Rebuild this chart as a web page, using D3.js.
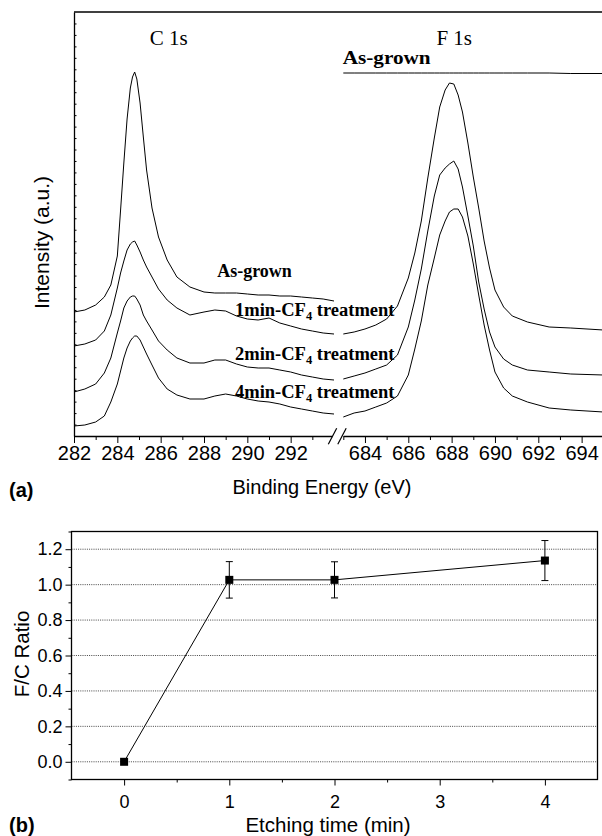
<!DOCTYPE html>
<html>
<head>
<meta charset="utf-8">
<script src="https://cdn.jsdelivr.net/npm/d3@7"></script>
<style>
body{margin:0;background:#fff;}
svg{display:block;}
.serif{font-family:"Liberation Serif","Times New Roman",serif;}
.sans{font-family:"Liberation Sans",Arial,sans-serif;}
</style>
</head>
<body>
<div id="plot"></div>
<script>
//DATA - panel (a), XPS spectra (intensity in a.u., stacked)
var cEnergy = [282, 282.5, 283, 283.4, 283.7, 284, 284.15, 284.3, 284.45, 284.6, 284.7, 284.8, 284.9, 285.05, 285.2, 285.35, 285.6, 285.9, 286.3, 286.75, 287.35, 288, 288.5, 289, 289.5, 290, 290.5, 291, 291.5, 292, 292.5, 293, 293.5, 294];
var cAsGrown = [124, 126, 131, 139, 151, 180, 226, 273, 317, 348, 359, 364, 357, 333, 299, 266, 228, 199, 176, 159, 149, 144, 143, 143, 143, 142, 141, 141, 140, 140, 139, 138, 137, 135];
var c1min = [90, 92, 96, 105, 121, 148, 163, 175, 186, 192, 194, 195, 191, 184, 176, 169, 159, 147, 136, 128, 121, 124, 126, 125, 120, 117, 116, 118, 113, 110, 107, 105, 103, 102];
var c2min = [44, 47, 52, 63, 78, 103, 115, 128, 135, 139, 140, 140, 137, 131, 121, 115, 106, 95, 86, 78, 73, 73, 76, 76, 72, 69, 68, 68, 66, 64, 61, 59, 57, 56];
var c4min = [10, 11, 14, 20, 34, 52, 65, 78, 88, 95, 98, 100, 100, 96, 89, 82, 71, 58, 47, 41, 37, 37, 40, 42, 40, 37, 35, 34, 32, 29, 27, 25, 23, 22];

var fEnergy = [683, 683.5, 684, 684.5, 685, 685.5, 686, 686.3, 686.6, 686.9, 687.2, 687.45, 687.7, 687.9, 688.1, 688.3, 688.5, 688.75, 689, 689.25, 689.5, 689.75, 690, 690.4, 690.8, 691.5, 692.5, 693.5, 695];
var fAsGrown = [363, 363, 363, 363, 363, 363, 363, 363, 363, 363, 363, 363, 363, 363, 363, 363, 363, 363, 363, 363, 363, 363, 363, 363, 363, 363, 363, 362.5, 362.5];
var f1min = [102, 104, 107, 111, 117, 130, 158, 183, 215, 258, 298, 329, 346, 353, 352, 341, 324, 293, 259, 228, 195, 168, 146, 129, 120, 114, 109, 108, 106];
var f2min = [57, 60, 63, 67, 71, 81, 109, 136, 167, 205, 240, 261, 268, 272, 275, 267, 249, 220, 190, 154, 127, 104, 89, 77, 71, 66, 64, 62, 61];
var f4min = [19, 23, 25, 29, 33, 40, 61, 87, 115, 151, 178, 201, 215, 224, 227, 227, 219, 200, 172, 141, 111, 86, 64, 48, 40, 34, 28, 26, 24];

var cMajor = [282, 284, 286, 288, 290, 292];
var cMinor = [283, 285, 287, 289, 291, 293];
var fMajor = [684, 686, 688, 690, 692, 694];
var fMinor = [683, 685, 687, 689, 691, 693, 695];
var intensityMax = 424;
var intensityTickCount = 37;

//DATA - panel (b), F/C ratio
var etchTime = [0, 1, 2, 4];
var fcRatio = [0, 1.027, 1.027, 1.136];
var fcError = [0, 0.103, 0.102, 0.113];
var timeMajor = [0, 1, 2, 3, 4];
var timeMinor = [0.5, 1.5, 2.5, 3.5];
var ratioMajor = [0, 0.2, 0.4, 0.6, 0.8, 1.0, 1.2];
var ratioMinor = [-0.1, 0.1, 0.3, 0.5, 0.7, 0.9, 1.1, 1.3];

var svg = d3.select('#plot')
    .append('svg')
    .attr('width',602)
    .attr('height',836);

//SCALES - panel (a) has a broken x axis
var xL = d3.scaleLinear().domain([282,294]).range([74,334]);
var xR = d3.scaleLinear().domain([683,695]).range([343.3,603.3]);
var yI = d3.scaleLinear().domain([0,intensityMax]).range([436,12]);

var lineC = d3.line()
    .x(function(d,i){return xL(cEnergy[i]);})
    .y(function(d){return yI(d);});
var lineF = d3.line()
    .x(function(d,i){return xR(fEnergy[i]);})
    .y(function(d){return yI(d);});

var panelA = svg.append('g');

//spectra
[cAsGrown,c1min,c2min,c4min].forEach(function(s){
    panelA.append('path')
        .attr('d',lineC(s))
        .style('fill','none')
        .style('stroke','#000')
        .style('stroke-width','1px');
});
[fAsGrown,f1min,f2min,f4min].forEach(function(s){
    panelA.append('path')
        .attr('d',lineF(s))
        .style('fill','none')
        .style('stroke','#000')
        .style('stroke-width','1px');
});

//x axes (two segments)
function bottomAxis(scale,major,minor){
    var g = panelA.append('g')
        .attr('transform','translate(0,436)')
        .attr('class','sans');
    g.call(d3.axisBottom(scale).tickValues(major).tickSize(7).tickSizeOuter(0).tickPadding(3).tickFormat(d3.format('d')));
    g.selectAll('text').style('font-size','20px').style('fill','#000');
    g.select('.domain').style('stroke-width','1.3px');
    var m = panelA.append('g')
        .attr('transform','translate(0,436)');
    m.call(d3.axisBottom(scale).tickValues(minor).tickSize(4).tickFormat(''));
    m.select('.domain').remove();
}
bottomAxis(xL,cMajor,cMinor);
bottomAxis(xR,fMajor,fMinor);

//axis break marks
var bx1 = xL(294)-1.5, bx2 = xR(683)-1.3;
panelA.append('rect')
    .attr('x',bx1)
    .attr('y',432)
    .attr('width',bx2-bx1)
    .attr('height',8)
    .style('fill','#fff');
[bx1,bx2].forEach(function(cx){
    panelA.append('line')
        .attr('x1',cx-4.2)
        .attr('y1',444.3)
        .attr('x2',cx+4.2)
        .attr('y2',428.3)
        .style('stroke','#000')
        .style('stroke-width','1.2px');
});

//left intensity axis, inner ticks only
var yStep = intensityMax/intensityTickCount;
var yA = panelA.append('g')
    .attr('transform','translate(74,0)');
yA.call(d3.axisLeft(yI).tickValues(d3.range(1,intensityTickCount).map(function(i){return i*yStep;})).tickSize(-2.5).tickSizeOuter(0).tickFormat(''));
yA.select('.domain').style('stroke-width','1.3px');

//top frame line
panelA.append('line')
    .attr('x1',xL(282))
    .attr('x2',xR(695))
    .attr('y1',yI(intensityMax))
    .attr('y2',yI(intensityMax))
    .style('stroke','#000')
    .style('stroke-width','1.3px');

//annotations
panelA.append('text')
    .attr('class','serif')
    .attr('x',xL(286.37))
    .attr('y',yI(391))
    .attr('text-anchor','middle')
    .style('font-size','21px')
    .text('C 1s');
panelA.append('text')
    .attr('class','serif')
    .attr('x',xR(688.12))
    .attr('y',yI(391))
    .attr('text-anchor','middle')
    .style('font-size','21px')
    .text('F 1s');
panelA.append('text')
    .attr('class','serif')
    .attr('x',xL(288.61))
    .attr('y',yI(159))
    .style('font-size','18px')
    .style('font-weight','bold')
    .text('As-grown');
panelA.append('text')
    .attr('class','serif')
    .attr('x',xR(682.97))
    .attr('y',yI(372))
    .attr('textLength',88)
    .attr('lengthAdjust','spacingAndGlyphs')
    .style('font-size','19px')
    .style('font-weight','bold')
    .text('As-grown');

var treatLabels = ['1min','2min','4min'];
var treatLabelY = [120, 76, 37.7];
treatLabels.forEach(function(t,i){
    var tx = panelA.append('text')
        .attr('class','serif')
        .attr('x',xL(289.43))
        .attr('y',yI(treatLabelY[i]))
        .style('font-size','18.5px')
        .style('font-weight','bold');
    tx.append('tspan').text(t+'-CF');
    tx.append('tspan').attr('dy',4).style('font-size','12.5px').text('4');
    tx.append('tspan').attr('dy',-4).text(' treatment');
});

//axis titles
panelA.append('text')
    .attr('class','sans')
    .attr('x',322)
    .attr('y',494)
    .attr('text-anchor','middle')
    .style('font-size','20px')
    .text('Binding Energy (eV)');
panelA.append('text')
    .attr('class','sans')
    .attr('transform','translate(49,242.5) rotate(-90)')
    .attr('text-anchor','middle')
    .style('font-size','21px')
    .text('Intensity (a.u.)');
panelA.append('text')
    .attr('class','sans')
    .attr('x',9)
    .attr('y',497)
    .style('font-size','20px')
    .style('font-weight','bold')
    .text('(a)');

//PANEL (b)
var xT = d3.scaleLinear().domain([-0.5,4.5]).range([71.5,597.5]);
var yRt = d3.scaleLinear().domain([-0.1,1.3]).range([779.5,531.5]);
var panelB = svg.append('g');

//dotted grid
ratioMajor.forEach(function(v){
    panelB.append('line')
        .attr('x1',xT(-0.5))
        .attr('x2',xT(4.5))
        .attr('y1',yRt(v))
        .attr('y2',yRt(v))
        .style('stroke','#444')
        .style('stroke-width','1px')
        .style('stroke-dasharray','1,1.2');
});

//frame
panelB.append('rect')
    .attr('x',xT(-0.5))
    .attr('y',yRt(1.3))
    .attr('width',xT(4.5)-xT(-0.5))
    .attr('height',yRt(-0.1)-yRt(1.3))
    .style('fill','none')
    .style('stroke','#000')
    .style('stroke-width','1.3px');

var xb = panelB.append('g')
    .attr('class','sans')
    .attr('transform','translate(0,'+yRt(-0.1)+')');
xb.call(d3.axisBottom(xT).tickValues(timeMajor).tickSize(6).tickSizeOuter(0).tickPadding(10).tickFormat(d3.format('d')));
xb.selectAll('text').style('font-size','18px').style('fill','#000');
xb.select('.domain').remove();
var xbm = panelB.append('g')
    .attr('transform','translate(0,'+yRt(-0.1)+')');
xbm.call(d3.axisBottom(xT).tickValues(timeMinor).tickSize(3).tickFormat(''));
xbm.select('.domain').remove();

var yb = panelB.append('g')
    .attr('class','sans')
    .attr('transform','translate('+xT(-0.5)+',0)');
yb.call(d3.axisLeft(yRt).tickValues(ratioMajor).tickSize(6).tickSizeOuter(0).tickPadding(3).tickFormat(d3.format('.1f')));
yb.selectAll('text').style('font-size','18px').style('fill','#000');
yb.select('.domain').remove();
var ybm = panelB.append('g')
    .attr('transform','translate('+xT(-0.5)+',0)');
ybm.call(d3.axisLeft(yRt).tickValues(ratioMinor).tickSize(3).tickFormat(''));
ybm.select('.domain').remove();

//connecting line
var lineR = d3.line()
    .x(function(d,i){return xT(etchTime[i]);})
    .y(function(d){return yRt(d);});
panelB.append('path')
    .attr('d',lineR(fcRatio))
    .style('fill','none')
    .style('stroke','#000')
    .style('stroke-width','1px');

//error bars
etchTime.forEach(function(t,i){
    if(fcError[i]===0) return;
    var x = xT(t), lo = yRt(fcRatio[i]-fcError[i]), hi = yRt(fcRatio[i]+fcError[i]);
    panelB.append('line').attr('x1',x).attr('x2',x).attr('y1',lo).attr('y2',hi)
        .style('stroke','#000').style('stroke-width','1px');
    [lo,hi].forEach(function(y){
        panelB.append('line').attr('x1',x-3.5).attr('x2',x+3.5).attr('y1',y).attr('y2',y)
            .style('stroke','#000').style('stroke-width','1px');
    });
});

//square markers
panelB.selectAll('rect.pt')
    .data(fcRatio)
    .enter()
    .append('rect')
    .attr('class','pt')
    .attr('x',function(d,i){return xT(etchTime[i])-4;})
    .attr('y',function(d){return yRt(d)-4;})
    .attr('width',8)
    .attr('height',8)
    .style('fill','#000');

panelB.append('text')
    .attr('class','sans')
    .attr('x',328)
    .attr('y',831.5)
    .attr('text-anchor','middle')
    .style('font-size','20.5px')
    .text('Etching time (min)');
panelB.append('text')
    .attr('class','sans')
    .attr('transform','translate(29,654) rotate(-90)')
    .attr('text-anchor','middle')
    .style('font-size','20.5px')
    .text('F/C Ratio');
panelB.append('text')
    .attr('class','sans')
    .attr('x',9)
    .attr('y',831.5)
    .style('font-size','20px')
    .style('font-weight','bold')
    .text('(b)');
</script>
</body>
</html>
